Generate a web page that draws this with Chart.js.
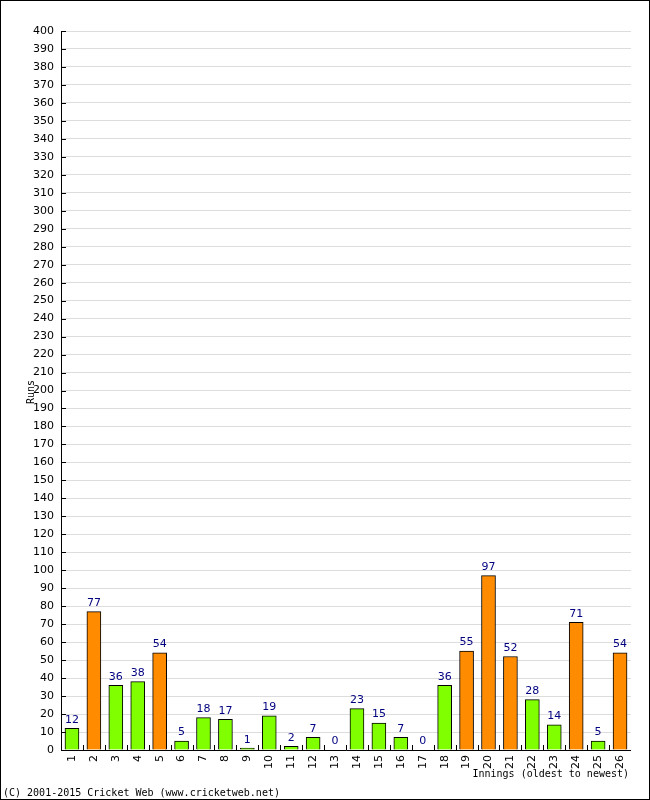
<!DOCTYPE html>
<html>
<head>
<meta charset="utf-8">
<script src="https://cdn.jsdelivr.net/npm/chart.js@4/dist/chart.umd.min.js"></script>
<style>
  html, body { margin: 0; padding: 0; background: #fff; }
  canvas { display: block; }
</style>
</head>
<body>
<canvas id="chart" width="650" height="800"></canvas>
<script>
// innings numbers and runs
const innings = ['1','2','3','4','5','6','7','8','9','10','11','12','13','14','15','16','17','18','19','20','21','22','23','24','25','26'];
const runs = [12, 77, 36, 38, 54, 5, 18, 17, 1, 19, 2, 7, 0, 23, 15, 7, 0, 36, 55, 97, 52, 28, 14, 71, 5, 54];
const yTicks = [0, 400, 10]; // min, max, step

const GREEN = '#80ff00';
const ORANGE = '#ff8c00';
const FONT = '"DejaVu Sans", sans-serif';
const MONO = '"DejaVu Sans Mono", monospace';

const barColors = runs.map(r => r >= 50 ? ORANGE : GREEN);

// --- extra drawing: value labels, inward ticks, axis titles, border ---
const decorations = {
    id: 'decorations',
    afterDatasetsDraw(chart) {
        const { ctx, chartArea, scales } = chart;
        const x = scales.x, y = scales.y;
        ctx.save();

        // y tick marks pointing into the plot
        ctx.strokeStyle = '#000';
        ctx.lineWidth = 1;
        for (let v = yTicks[0]; v <= yTicks[1]; v += yTicks[2]) {
            const py = Math.round(y.getPixelForValue(v)) + 0.5;
            ctx.beginPath();
            ctx.moveTo(chartArea.left, py);
            ctx.lineTo(chartArea.left + 5, py);
            ctx.stroke();
        }
        // x tick marks at category boundaries
        const step = (chartArea.right - chartArea.left) / innings.length;
        for (let i = 1; i < innings.length; i++) {
            const px = Math.round(chartArea.left + step * i) + 0.5;
            ctx.beginPath();
            ctx.moveTo(px, chartArea.bottom);
            ctx.lineTo(px, chartArea.bottom - 5);
            ctx.stroke();
        }
        // axis lines
        ctx.beginPath();
        ctx.moveTo(chartArea.left + 0.5, chartArea.top);
        ctx.lineTo(chartArea.left + 0.5, chartArea.bottom + 0.5);
        ctx.lineTo(chartArea.right, chartArea.bottom + 0.5);
        ctx.stroke();

        // value labels above bars
        ctx.fillStyle = '#000080';
        ctx.font = '11px ' + FONT;
        ctx.textAlign = 'center';
        ctx.textBaseline = 'bottom';
        runs.forEach((r, i) => {
            ctx.fillText(String(r), x.getPixelForValue(i), y.getPixelForValue(r) - 3);
        });

        // axis titles
        ctx.fillStyle = '#000';
        ctx.font = '10px ' + MONO;
        ctx.textAlign = 'right';
        ctx.textBaseline = 'alphabetic';
        ctx.fillText('Innings (oldest to newest)', 629, 777);

        ctx.save();
        ctx.translate(34, 392);
        ctx.rotate(-Math.PI / 2);
        ctx.textAlign = 'center';
        ctx.fillText('Runs', 0, 0);
        ctx.restore();

        // copyright line
        ctx.textAlign = 'left';
        ctx.fillText('(C) 2001-2015 Cricket Web (www.cricketweb.net)', 3, 796);

        // outer frame
        ctx.strokeRect(0.5, 0.5, 649, 799);
        ctx.restore();
    }
};

new Chart(document.getElementById('chart'), {
    type: 'bar',
    data: {
        labels: innings,
        datasets: [{
            data: runs,
            backgroundColor: barColors,
            borderColor: '#000',
            borderWidth: 1,
            barThickness: 14,
        }]
    },
    options: {
        responsive: false,
        animation: false,
        layout: { padding: { left: 0, top: 31, right: 19, bottom: 0 } },
        plugins: {
            legend: { display: false },
            tooltip: { enabled: false }
        },
        scales: {
            x: {
                grid: { display: false, drawTicks: false },
                border: { display: false },
                ticks: {
                    color: '#000',
                    font: { family: FONT, size: 11 },
                    minRotation: 90,
                    maxRotation: 90,
                    padding: 5,
                    autoSkip: false
                },
                afterFit: (scale) => { scale.height = 50; }
            },
            y: {
                min: yTicks[0],
                max: yTicks[1],
                grid: { color: '#dddddd', drawTicks: false },
                border: { display: false },
                ticks: {
                    stepSize: yTicks[2],
                    color: '#000',
                    font: { family: FONT, size: 11 },
                    padding: 7,
                    autoSkip: false
                },
                afterFit: (scale) => { scale.width = 61; }
            }
        }
    },
    plugins: [decorations]
});
</script>
</body>
</html>
